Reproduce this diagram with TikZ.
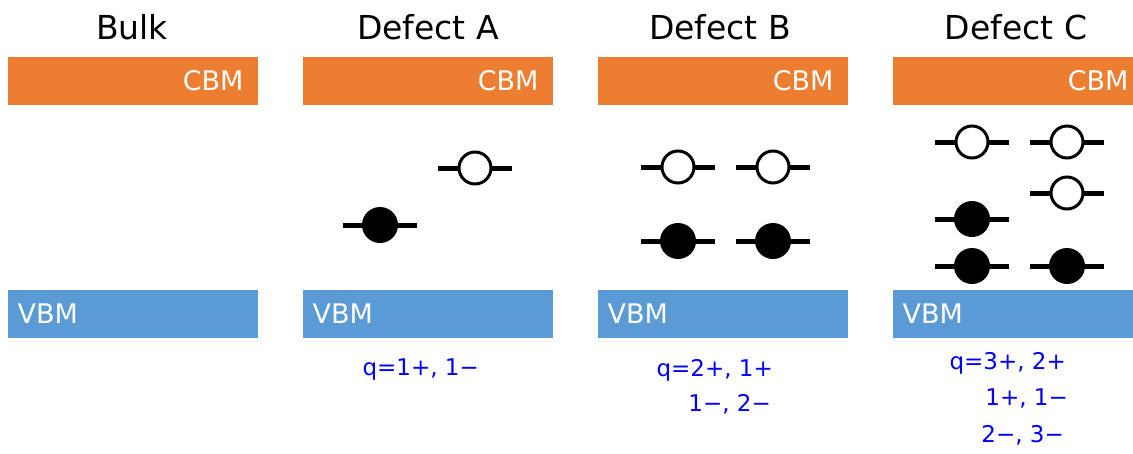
\documentclass[tikz,border=0pt]{standalone}
\usepackage{fontspec}
\setmainfont{DejaVu Sans}
\definecolor{cbmorange}{HTML}{ED7D31}
\definecolor{vbmblue}{HTML}{5B9BD5}
\definecolor{qblue}{HTML}{0000FF}
\tikzset{
  title/.style={font=\fontsize{33}{37}\selectfont, text=black, anchor=center},
  cbmbar/.style={fill=cbmorange, draw=none},
  vbmbar/.style={fill=vbmblue, draw=none},
  bandlabel/.style={font=\fontsize{27}{30}\selectfont, text=white},
  levelline/.style={line width=5pt, draw=black},
  occ/.style={circle, fill=black, draw=none, minimum size=36pt, inner sep=0pt},
  emp/.style={circle, fill=white, draw=black, line width=3pt, minimum size=32pt, inner sep=0pt},
  qlabel/.style={font=\fontsize{23}{26}\selectfont, text=qblue, anchor=east, inner sep=0pt},
}
\newcommand\stateocc[3]{\draw[levelline] (#2-37,#3) -- (#2+37,#3); \node[occ] (#1) at (#2,#3) {};}
\newcommand\stateemp[3]{\draw[levelline] (#2-37,#3) -- (#2+37,#3); \node[emp] (#1) at (#2,#3) {};}
\begin{document}
\begin{tikzpicture}[x=1pt,y=-1pt]
\useasboundingbox (0,0) rectangle (1133,453);
% titles
\node[title] (tbulk) at (132,27) {Bulk};
\node[title] (ta) at (428,27) {Defect A};
\node[title] (tb) at (720,27) {Defect B};
\node[title] (tc) at (1016,27) {Defect C};
% bands
\foreach \n/\x in {bulk/8, a/303, b/598, c/893} {
  \fill[cbmbar] (\x,57) rectangle (\x+250,105);
  \node[bandlabel, anchor=east] (cbm\n) at (\x+239,81) {CBM};
  \fill[vbmbar] (\x,290) rectangle (\x+250,338);
  \node[bandlabel, anchor=west] (vbm\n) at (\x+6,314) {VBM};
}
% Defect A
\stateocc{a1}{380}{225}
\stateemp{a2}{475}{168}
% Defect B
\stateemp{b1}{678}{167}
\stateemp{b2}{773}{167}
\stateocc{b3}{678}{241}
\stateocc{b4}{773}{241}
% Defect C
\stateemp{c1}{972}{142}
\stateemp{c2}{1067}{142}
\stateemp{c3}{1067}{193}
\stateocc{c4}{972}{219}
\stateocc{c5}{972}{266}
\stateocc{c6}{1067}{266}
% charge labels
\node[qlabel] (qa) at (479,370) {q=1+, 1−};
\node[qlabel] (qb1) at (773,370) {q=2+, 1+};
\node[qlabel] (qb2) at (771,404) {1−, 2−};
\node[qlabel] (qc1) at (1066,363) {q=3+, 2+};
\node[qlabel] (qc2) at (1068,398) {1+, 1−};
\node[qlabel] (qc3) at (1064,435) {2−, 3−};
\end{tikzpicture}
\end{document}
